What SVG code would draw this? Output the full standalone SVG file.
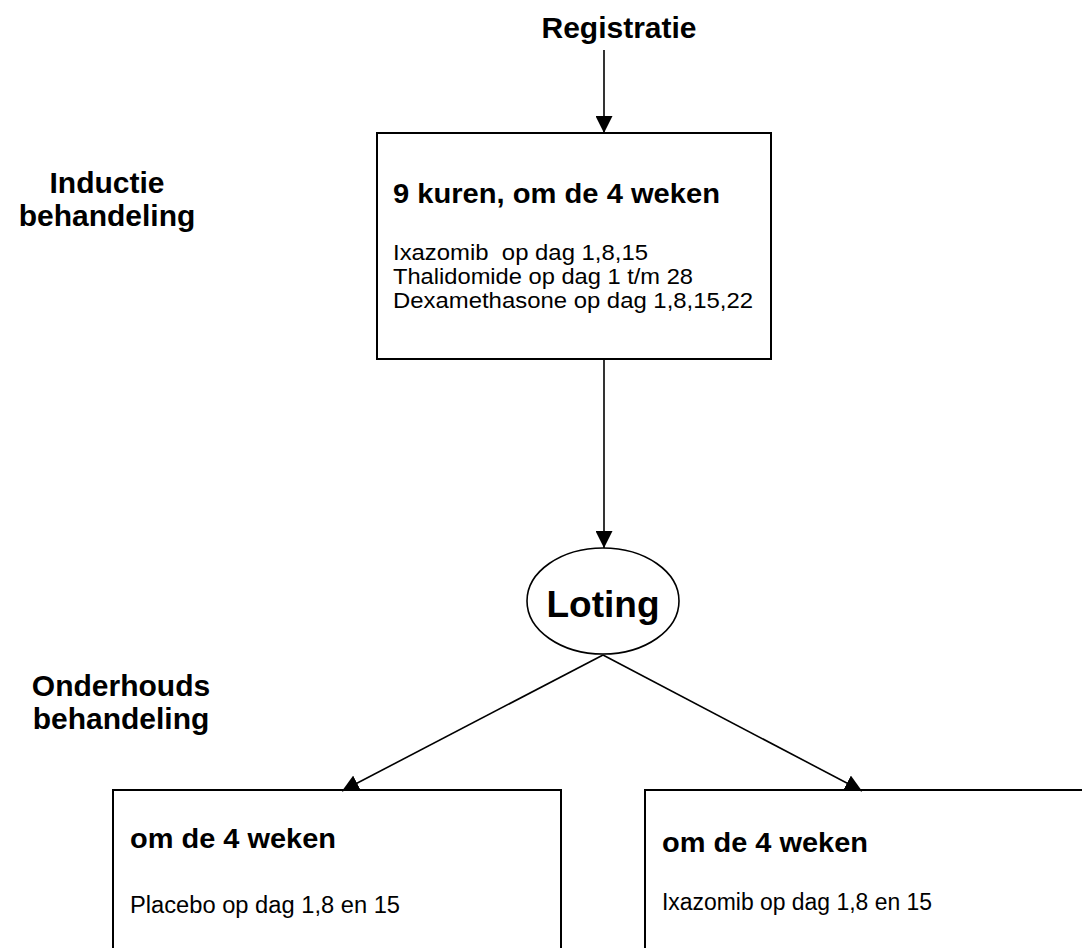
<svg xmlns="http://www.w3.org/2000/svg" width="1082" height="948" viewBox="0 0 1082 948">
<style>
text{font-family:"Liberation Sans",Arial,sans-serif;fill:#000}
.b{font-weight:bold}
.box{fill:#fff;stroke:#000;stroke-width:2}
.ln{stroke:#000;stroke-width:1.6;fill:none}
</style>
<defs>
<marker id="ah" viewBox="0 0 10 10" refX="10" refY="5" markerWidth="17" markerHeight="17" markerUnits="userSpaceOnUse" orient="auto">
<path d="M0,0 L10,5 L0,10 Z" fill="#000"/>
</marker>
</defs>
<rect width="1082" height="948" fill="#fff"/>
<g id="labels">
<text class="b" x="107" y="193" font-size="30" text-anchor="middle">Inductie</text>
<text class="b" x="107" y="226" font-size="30" text-anchor="middle">behandeling</text>
<text class="b" x="121" y="696" font-size="30" text-anchor="middle">Onderhouds</text>
<text class="b" x="121" y="729" font-size="30" text-anchor="middle">behandeling</text>
</g>
<g id="registratie">
<text class="b" x="619" y="38" font-size="30" text-anchor="middle">Registratie</text>
</g>
<g id="inductie">
<rect class="box" x="377" y="133" width="394" height="226"/>
<text class="b" x="393" y="203" font-size="28" textLength="327" lengthAdjust="spacingAndGlyphs">9 kuren, om de 4 weken</text>
<text x="393" y="260" font-size="22" xml:space="preserve" textLength="255" lengthAdjust="spacingAndGlyphs">Ixazomib  op dag 1,8,15</text>
<text x="393" y="284" font-size="22" textLength="300" lengthAdjust="spacingAndGlyphs">Thalidomide op dag 1 t/m 28</text>
<text x="393" y="308" font-size="22" textLength="360" lengthAdjust="spacingAndGlyphs">Dexamethasone op dag 1,8,15,22</text>
</g>
<g id="loting">
<ellipse cx="603" cy="601" rx="76" ry="53" fill="#fff" stroke="#000" stroke-width="1.6"/>
<text class="b" x="603" y="617" font-size="37" text-anchor="middle">Loting</text>
</g>
<g id="placebo">
<rect class="box" x="113" y="790" width="448" height="180"/>
<text class="b" x="130" y="848" font-size="28" textLength="206" lengthAdjust="spacingAndGlyphs">om de 4 weken</text>
<text x="130" y="913" font-size="23" textLength="270" lengthAdjust="spacingAndGlyphs">Placebo op dag 1,8 en 15</text>
</g>
<g id="ixazomib">
<rect class="box" x="645" y="790" width="460" height="180"/>
<text class="b" x="662" y="852" font-size="28" textLength="206" lengthAdjust="spacingAndGlyphs">om de 4 weken</text>
<text x="662" y="910" font-size="23" textLength="270" lengthAdjust="spacingAndGlyphs">Ixazomib op dag 1,8 en 15</text>
</g>
<g id="connectors">
<line class="ln" x1="604" y1="50" x2="604" y2="133" marker-end="url(#ah)"/>
<line class="ln" x1="604" y1="359" x2="604" y2="548" marker-end="url(#ah)"/>
<line class="ln" x1="603" y1="655" x2="342" y2="791" marker-end="url(#ah)"/>
<line class="ln" x1="603" y1="655" x2="862" y2="791" marker-end="url(#ah)"/>
</g>
</svg>
